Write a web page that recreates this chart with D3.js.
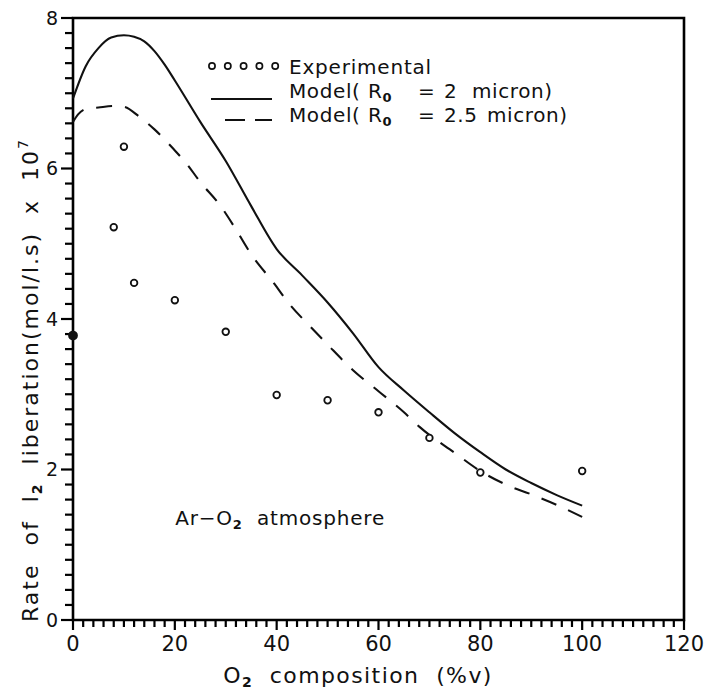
<!DOCTYPE html>
<html>
<head>
<meta charset="utf-8">
<script src="https://cdn.jsdelivr.net/npm/d3@7"></script>
<style>
  body { margin: 0; background: #fff; }
  svg { display: block; font-family: "DejaVu Sans", sans-serif; }
  text { fill: #111; }
</style>
</head>
<body>
<svg id="chart" width="706" height="689"></svg>
<script>
// Experimental points (first one drawn filled)
const expX = [0, 8, 10, 12, 20, 30, 40, 50, 60, 70, 80, 100];
const expY = [3.78, 5.22, 6.29, 4.48, 4.25, 3.83, 2.99, 2.92, 2.76, 2.42, 1.96, 1.98];

// Model, R0 = 2 micron (solid)
const modelAX = [0, 2.5, 5, 7.5, 10, 12, 14, 16, 18, 20, 25, 30, 35, 40, 45, 50, 55, 60, 65, 70, 75, 80, 85, 90, 95, 100];
const modelAY = [6.93, 7.36, 7.60, 7.74, 7.77, 7.75, 7.69, 7.56, 7.38, 7.17, 6.62, 6.10, 5.50, 4.93, 4.58, 4.22, 3.81, 3.36, 3.05, 2.76, 2.48, 2.23, 2.00, 1.82, 1.66, 1.52];

// Model, R0 = 2.5 micron (dashed)
const modelBX = [0, 1, 2.5, 5, 8, 10, 13, 16, 20, 22, 25, 29, 32, 35, 39.4, 42.6, 46.6, 50, 55, 60, 65, 68, 75, 80, 85, 90, 95, 100];
const modelBY = [6.62, 6.72, 6.79, 6.81, 6.83, 6.82, 6.69, 6.52, 6.24, 6.09, 5.82, 5.50, 5.19, 4.86, 4.48, 4.19, 3.90, 3.66, 3.32, 3.04, 2.76, 2.57, 2.22, 1.98, 1.80, 1.67, 1.53, 1.37];

const xTicks = [0, 20, 40, 60, 80, 100, 120];
const yTicks = [0, 2, 4, 6, 8];

const svg = d3.select("#chart");
const plotLeft = 73, plotRight = 684, plotTop = 18, plotBottom = 620;

const x = d3.scaleLinear().domain([0, 120]).range([plotLeft, plotRight]);
const y = d3.scaleLinear().domain([0, 8]).range([plotBottom, plotTop]);

const ink = "#000";

// y ticks (outward, left) every 0.2, longer on majors
const yMinor = d3.range(0, 8.001, 0.2);
svg.append("g")
    .selectAll("path")
    .data(yMinor)
    .join("path")
    .attr("d", (d, i) => `M${plotLeft},${y(d)}h${-(i % 10 === 0 ? 12 : 8)}`)
    .attr("fill", "none")
    .attr("stroke", ink)
    .attr("stroke-width", 2.2);

// x ticks (outward, down) every 2, longer on majors
const xMinor = d3.range(0, 120.001, 2);
svg.append("g")
    .selectAll("path")
    .data(xMinor)
    .join("path")
    .attr("d", (d, i) => `M${x(d)},${plotBottom}v${i % 10 === 0 ? 10 : 7}`)
    .attr("fill", "none")
    .attr("stroke", ink)
    .attr("stroke-width", 2.2);

// frame: left axis, bottom axis, top and right border
svg.append("path")
    .attr("d", `M${plotLeft},${plotTop}H${plotRight}V${plotBottom}H${plotLeft}Z`)
    .attr("fill", "none")
    .attr("stroke", ink)
    .attr("stroke-width", 2.6);

// tick labels
svg.append("g")
    .selectAll("text")
    .data(yTicks)
    .join("text")
    .attr("x", plotLeft - 15)
    .attr("y", d => y(d))
    .attr("dy", "0.36em")
    .attr("text-anchor", "end")
    .attr("font-size", 19)
    .text(d3.format("d"));

svg.append("g")
    .selectAll("text")
    .data(xTicks)
    .join("text")
    .attr("x", d => x(d))
    .attr("y", plotBottom + 31)
    .attr("text-anchor", "middle")
    .attr("font-size", 21)
    .text(d3.format("d"));

// model curves
const line = d3.line()
    .x(d => x(d[0]))
    .y(d => y(d[1]))
    .curve(d3.curveMonotoneX);

svg.append("path")
    .datum(d3.zip(modelAX, modelAY))
    .attr("d", line)
    .attr("fill", "none")
    .attr("stroke", "#111")
    .attr("stroke-width", 2.1);

svg.append("path")
    .datum(d3.zip(modelBX, modelBY))
    .attr("d", line)
    .attr("fill", "none")
    .attr("stroke", "#111")
    .attr("stroke-width", 2.1)
    .attr("stroke-dasharray", "16,13");

// experimental points
svg.append("g")
    .selectAll("circle")
    .data(d3.zip(expX, expY))
    .join("circle")
    .attr("cx", d => x(d[0]))
    .attr("cy", d => y(d[1]))
    .attr("r", (d, i) => i === 0 ? 4 : 3.3)
    .attr("fill", (d, i) => i === 0 ? "#111" : "#fff")
    .attr("stroke", "#111")
    .attr("stroke-width", 1.8);

// legend
const legend = svg.append("g").attr("font-size", 20);

legend.selectAll("circle")
    .data(d3.range(5))
    .join("circle")
    .attr("cx", i => 212 + i * 15.8)
    .attr("cy", 66)
    .attr("r", 3.1)
    .attr("fill", "none")
    .attr("stroke", "#111")
    .attr("stroke-width", 1.7);

legend.append("line")
    .attr("x1", 211).attr("x2", 272).attr("y1", 99).attr("y2", 99)
    .attr("stroke", "#111").attr("stroke-width", 1.9);

legend.append("line")
    .attr("x1", 225).attr("x2", 272).attr("y1", 120).attr("y2", 120)
    .attr("stroke", "#111").attr("stroke-width", 1.9)
    .attr("stroke-dasharray", "20,10");

legend.append("text")
    .attr("x", 289).attr("y", 74)
    .attr("letter-spacing", 0.8)
    .text("Experimental");

function modelLabel(yPos, radius, micStart) {
    const t = legend.append("text").attr("y", yPos).attr("letter-spacing", 0.6);
    t.append("tspan").attr("x", 289).text("Model(");
    t.append("tspan").attr("x", 368).text("R");
    t.append("tspan").attr("font-size", 13).attr("dy", 4).attr("font-weight", "bold").text("0");
    t.append("tspan").attr("x", 418).attr("dy", -4).text("=");
    t.append("tspan").attr("x", 444).text(radius);
    t.append("tspan").attr("x", micStart).text("micron)");
}
modelLabel(98, "2", 472);
modelLabel(122, "2.5", 487);

// annotation
const ann = svg.append("text")
    .attr("x", 385).attr("y", 525)
    .attr("text-anchor", "end")
    .attr("font-size", 20)
    .attr("letter-spacing", 0.8)
    .attr("xml:space", "preserve");
ann.append("tspan").text("Ar\u2212O");
ann.append("tspan").attr("font-size", 13).attr("dy", 4).attr("font-weight", "bold").text("2");
ann.append("tspan").attr("dy", -4).text("  atmosphere");

// x axis title
const xt = svg.append("text")
    .attr("x", 358).attr("y", 683)
    .attr("text-anchor", "middle")
    .attr("font-size", 22)
    .attr("letter-spacing", 1.4)
    .attr("xml:space", "preserve");
xt.append("tspan").text("O");
xt.append("tspan").attr("font-size", 14).attr("dy", 4).attr("font-weight", "bold").text("2");
xt.append("tspan").attr("dy", -4).text("  composition  (%v)");

// y axis title
const yt = svg.append("text")
    .attr("transform", "translate(38,380) rotate(-90)")
    .attr("text-anchor", "middle")
    .attr("font-size", 22)
    .attr("letter-spacing", 2)
    .attr("xml:space", "preserve");
yt.append("tspan").text("Rate  of  l");
yt.append("tspan").attr("font-size", 14).attr("dy", 4).attr("font-weight", "bold").text("2");
yt.append("tspan").attr("dy", -4).text("  liberation(mol/l.s)  x  10");
yt.append("tspan").attr("font-size", 14).attr("dy", -10).text("7");
</script>
</body>
</html>
